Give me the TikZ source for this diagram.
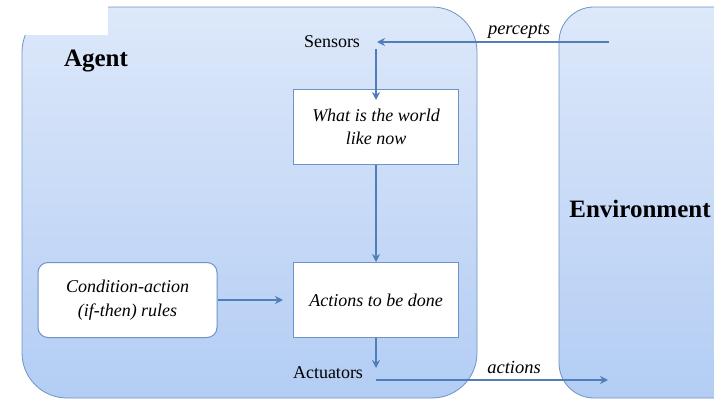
\documentclass[tikz,border=0pt]{standalone}
\usepackage{fontspec}
\setmainfont{Liberation Serif}
\usetikzlibrary{arrows.meta}
\definecolor{bgtop}{HTML}{DDE8FA}
\definecolor{bgbot}{HTML}{B3CDF4}
\definecolor{edge}{HTML}{6F93C4}
\definecolor{arr}{HTML}{4F7EB8}
\tikzset{
  panel/.style={draw=edge, line width=0.8pt, top color=bgtop, bottom color=bgbot},
  innerbox/.style={draw=edge, line width=1pt, fill=white, minimum width=165pt, minimum height=75pt, align=center, font=\fontsize{18}{23.5}\selectfont\itshape},
  flow/.style={draw=arr, line width=1.4pt, -{Stealth[length=8pt,width=8pt]}},
  lbl/.style={font=\fontsize{18}{21}\selectfont, inner sep=1pt},
  ilbl/.style={font=\fontsize{18.5}{21}\selectfont\itshape, inner sep=1pt},
  big/.style={font=\fontsize{25}{28}\selectfont\bfseries, inner sep=1pt}
}
\begin{document}
\begin{tikzpicture}[x=1pt,y=-1pt]
\useasboundingbox (0,0) rectangle (714,399);
\begin{scope}
\clip (0,0) rectangle (714,399);
\path[panel, rounded corners=45pt] (22,7) rectangle (477,398);
\path[panel, rounded corners=35pt] (559,7) rectangle (760,398);
\fill[white] (0,0) rectangle (108,35);
\end{scope}
\node[big] (agent) at (96,61) {Agent};
\node[big] (env) at (640,209) {Environment};
\node[lbl] (sens) at (332,42) {Sensors};
\node[lbl] (act) at (328,373) {Actuators};
\node[ilbl] (perc) at (519,31) {percepts};
\node[ilbl] (acts) at (514,367) {actions};
\node[innerbox] (world) at (376,127) {What is the world\\like now};
\node[innerbox] (todo) at (376,300) {Actions to be done};
\node[innerbox, rounded corners=10pt, minimum width=179pt] (rules) at (127.5,300) {Condition-action\\(if-then) rules};
\coordinate (pstart) at (609,42);
\coordinate (pend) at (377,42);
\coordinate (sdown) at (376,49);
\coordinate (adown) at (376,368);
\coordinate (astart) at (376,380);
\coordinate (aend) at (608,380);
\draw[flow] (pstart) -- (pend);
\draw[flow] (sdown) -- ([yshift=-11pt]world.north -| sdown);
\draw[flow] (world.south -| sdown) -- (todo.north -| sdown);
\draw[flow] (todo.south -| sdown) -- (adown);
\draw[flow] (rules.east) -- ([xshift=-10pt]todo.west);
\draw[flow] (astart) -- (aend);
\end{tikzpicture}
\end{document}
